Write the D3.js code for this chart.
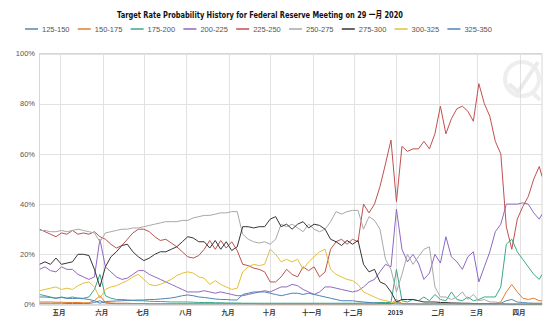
<!DOCTYPE html>
<html>
<head>
<meta charset="utf-8">
<script src="https://cdn.jsdelivr.net/npm/d3@7"></script>
<style>
  body { margin: 0; background: #fff; }
  svg { display: block; }
</style>
</head>
<body>
<svg id="chart" width="550" height="323"></svg>
<script>
// Observation dates: every 4 days from 16 Apr 2018, plus the final session
const startDate = new Date(2018, 3, 16);
const dates = d3.range(92).map(i => d3.timeDay.offset(startDate, 4 * i)).concat([new Date(2019, 3, 17)]);

const seriesNames = ["125-150", "150-175", "175-200", "200-225", "225-250", "250-275", "275-300", "300-325", "325-350"];

// Probability (%) of each target range on every observation date
const p125_150 = [
  0.5, 0.5, 0.5, 0.5, 0.5, 0.4, 0.4, 0.4, 0.4, 0.4,
  0.8, 1.5, 0.6, 0.4, 0.3, 0.3, 0.3, 0.3, 0.3, 0.3,
  0.2, 0.2, 0.2, 0.2, 0.2, 0.2, 0.2, 0.2, 0.2, 0.2,
  0.2, 0.2, 0.2, 0.2, 0.2, 0.2, 0.2, 0.2, 0.2, 0.2,
  0.1, 0.1, 0.1, 0.1, 0.1, 0.1, 0.1, 0.1, 0.1, 0.1,
  0.1, 0.1, 0.1, 0.1, 0.1, 0.1, 0.1, 0.1, 0.1, 0.1,
  0.1, 0.1, 0.2, 0.2, 0.2, 1, 0.3, 0.2, 0.2, 0.2,
  0.2, 0.2, 0.3, 0.2, 0.2, 0.3, 0.2, 0.2, 0.2, 0.2,
  0.2, 0.2, 0.2, 0.2, 0.5, 1.5, 2, 1, 0.8, 0.6,
  0.5, 0.5, 0.5];

const p150_175 = [
  1, 1, 1, 0.9, 0.9, 0.8, 0.8, 0.8, 0.7, 0.7,
  1.5, 3.5, 0.8, 0.6, 0.5, 0.5, 0.5, 0.4, 0.4, 0.4,
  0.3, 0.3, 0.3, 0.3, 0.3, 0.3, 0.3, 0.3, 0.3, 0.3,
  0.3, 0.3, 0.3, 0.3, 0.3, 0.3, 0.3, 0.3, 0.3, 0.3,
  0.2, 0.2, 0.2, 0.2, 0.2, 0.2, 0.2, 0.2, 0.2, 0.2,
  0.2, 0.2, 0.2, 0.2, 0.2, 0.2, 0.2, 0.2, 0.2, 0.2,
  0.2, 0.2, 0.2, 0.2, 0.2, 2, 0.3, 0.2, 0.3, 0.2,
  0.3, 0.2, 0.4, 0.3, 0.2, 0.5, 0.3, 0.2, 0.3, 0.2,
  0.3, 0.4, 0.3, 0.5, 1, 5, 8, 5, 2.5, 2,
  2.5, 1.5, 1.5];

const p175_200 = [
  4, 3.5, 3, 2.5, 3, 2.5, 3, 2.5, 2.5, 3,
  6, 12, 3.5, 2.5, 2, 2, 1.8, 1.6, 1.5, 1.5,
  1.3, 1.2, 1.2, 1.1, 1, 1, 1, 1, 0.9, 0.8,
  0.8, 0.8, 0.7, 0.7, 0.6, 0.6, 0.6, 0.5, 0.5, 0.5,
  0.5, 0.5, 0.5, 0.5, 0.5, 0.5, 0.5, 0.5, 0.5, 0.5,
  0.5, 0.5, 0.5, 0.5, 0.5, 0.5, 0.5, 0.5, 0.5, 0.6,
  0.6, 0.7, 0.8, 0.8, 0.8, 14, 1.5, 1, 2, 1.5,
  3, 1.5, 4, 2, 1.5, 5, 2, 1.5, 3, 1.5,
  2, 3, 3, 3, 7, 24, 26, 21, 18, 15,
  12, 10, 12];

const p200_225 = [
  14, 15, 13.5, 13, 15, 14, 14, 12, 11, 10,
  11, 26, 15, 13, 11, 10, 10.5, 12, 13.5, 13.5,
  12, 11, 10, 9, 8, 7, 6, 5, 5, 5,
  5.5, 5, 4.5, 5, 4.5, 4, 3.5, 3.5, 4, 4.5,
  5, 5.5, 5, 6, 7, 7, 8, 7.5, 6, 5,
  4, 5, 7, 7, 6.5, 6, 5.5, 5, 5.5, 7,
  9, 10, 13, 16, 15, 38, 22, 17, 20, 16.5,
  10, 12.5, 20, 16.5, 27, 19, 17, 14, 19, 21,
  9, 15, 21, 29, 32, 40, 40, 40, 40.5, 40,
  36.5, 34, 36];

const p225_250 = [
  30, 29, 28, 27, 28.5, 28, 29.5, 28, 28.5, 28,
  29, 27, 26, 24, 22.5, 23.5, 26, 28.5, 30, 30,
  29, 27, 25.5, 26, 24.5, 23, 21, 19, 18.5, 19.5,
  22, 25.5, 22, 25.5, 22.5, 25, 21.5, 16, 15.5, 14.5,
  14, 13, 9, 9, 11, 14, 12, 11, 15, 13.5,
  15, 11, 13, 22, 25, 26, 24, 26, 25, 40,
  36.5, 40, 47, 56, 65.5, 41, 63, 61, 62, 62,
  65, 62, 68, 79, 68, 74, 78, 79, 77, 73,
  88, 80, 75, 65, 60, 31, 22, 34, 39, 43,
  50, 55, 51];

const p250_275 = [
  29.5, 29.5, 29, 29, 29.5, 29, 29.5, 30, 29.5, 29,
  28.5, 25, 28.5, 29, 29.5, 30, 30, 30.5, 30.5, 31,
  31.5, 32, 32.5, 33, 33, 33, 33.5, 33.5, 34.5, 35,
  35.5, 35.5, 36, 36.5, 36.5, 37, 37, 28, 26, 25,
  24.5, 25, 24, 26, 32, 31, 32, 30.5, 29, 32,
  30, 29, 30, 33, 37, 36, 37, 37.5, 37.5, 30,
  35, 33.5, 30, 18, 14, 5, 12, 20, 16, 19,
  22, 23, 7, 3, 3, 2, 3, 5, 2, 4,
  1.5, 2, 1, 1, 0.5, 0.3, 0.2, 0.2, 0.1, 0.1,
  0.1, 0.1, 0.1];

const p275_300 = [
  16, 17, 16, 18.5, 16, 16.5, 17, 20, 20, 19.5,
  14, 7, 15, 19, 21, 23.5, 24, 21, 19, 17.5,
  18.5, 20, 21, 21, 22, 23, 25, 27, 26.5, 25,
  25, 22.5, 25.5, 22, 25, 21.5, 23, 31, 31, 30.5,
  31, 31, 34, 35, 31, 32, 30, 32, 33, 30.5,
  32, 31.5, 30, 26, 25, 23.5, 25.5, 24, 25.5, 16,
  13, 14, 9, 8, 5, 1, 2, 2, 2, 1.5,
  1, 1, 1, 0.8, 0.8, 0.6, 0.6, 0.5, 0.5, 0.4,
  0.3, 0.3, 0.3, 0.2, 0.2, 0.1, 0.1, 0.1, 0.1, 0.1,
  0.1, 0.1, 0.1];

const p300_325 = [
  5.5, 6, 6.5, 7, 6, 6.5, 6, 7.5, 8.5, 9,
  7, 2.5, 6, 7, 7.5, 8.5, 9.5, 11, 12, 10,
  8, 7.5, 8, 9, 10, 11.5, 12.5, 13, 12.5, 11,
  10.5, 8, 9.5, 8, 7, 6, 6.5, 13, 15, 16,
  15.5, 16, 22, 20, 17, 18, 17, 18, 14, 17,
  19, 21, 22, 14, 12, 11, 10, 9.5, 8, 5,
  4, 3, 2, 1.5, 1, 0.5, 0.5, 0.4, 0.3, 0.3,
  0.2, 0.2, 0.2, 0.2, 0.2, 0.2, 0.2, 0.2, 0.2, 0.2,
  0.2, 0.2, 0.2, 0.2, 0.2, 0.2, 0.3, 0.2, 0.2, 0.1,
  0.1, 0.1, 0.1];

const p325_350 = [
  3, 3, 2.8, 2.5, 2.8, 2.5, 2.4, 2.5, 2.3, 2,
  1.5, 0.5, 1.2, 1.3, 1.4, 1.5, 1.6, 1.7, 1.8, 1.8,
  2, 2, 2.2, 2.4, 2.6, 3, 3.5, 3.8, 3.5, 3,
  2.8, 2.5, 2.2, 2, 2, 1.8, 1.8, 4, 4.5, 5,
  5, 5, 4.5, 4, 3.5, 4, 4.5, 4.5, 4, 4.5,
  4, 3.5, 3, 2.5, 2, 1.5, 1.5, 1.5, 1.2, 1,
  0.8, 0.6, 0.5, 0.4, 0.3, 0.2, 0.2, 0.2, 0.2, 0.1,
  0.1, 0.1, 0.1, 0.1, 0.1, 0.1, 0.1, 0.1, 0.1, 0.1,
  0.1, 0.1, 0.1, 0.1, 0.1, 0.1, 0.1, 0.1, 0.1, 0.1,
  0.1, 0.1, 0.1];

const seriesValues = [p125_150, p150_175, p175_200, p200_225, p225_250, p250_275, p275_300, p300_325, p325_350];

const yTicks = [0, 20, 40, 60, 80, 100];
const monthLabels = ["五月", "六月", "七月", "八月", "九月", "十月", "十一月", "十二月", "2019", "二月", "三月", "四月"];

const titleText = "Target Rate Probability History for Federal Reserve Meeting on 29 一月 2020";

// ---- styling ----
const colors = ["#5b86ad", "#e07f2c", "#3aa88c", "#8f68c2", "#c0504f", "#a8a8a8", "#353535", "#e3bf3c", "#4f82b8"];
const plot = { left: 39.5, right: 542, top: 53.5, bottom: 304.5 };

const svg = d3.select("#chart");

const x = d3.scaleTime()
  .domain([dates[0], dates[dates.length - 1]])
  .range([plot.left, plot.right]);
const y = d3.scaleLinear().domain([0, 100]).range([plot.bottom, plot.top]);

// title
svg.append("text")
  .attr("x", 260).attr("y", 18)
  .attr("text-anchor", "middle")
  .attr("textLength", 286).attr("lengthAdjust", "spacingAndGlyphs")
  .style("font-family", "'DejaVu Sans', 'Noto Sans CJK SC', sans-serif")
  .style("font-weight", "bold").style("font-size", "9.5px").style("fill", "#111")
  .text(titleText);

// legend
const legend = svg.append("g").attr("transform", "translate(25,29)");
seriesNames.forEach((name, i) => {
  const g = legend.append("g").attr("transform", `translate(${i * 52.8},0)`);
  g.append("line").attr("x1", 0).attr("x2", 13).attr("y1", 0).attr("y2", 0)
    .attr("stroke", colors[i]).attr("stroke-width", 1.5);
  g.append("text").attr("x", 17).attr("y", 0).attr("dy", "0.35em")
    .style("font-family", "'Liberation Sans', Arial, sans-serif")
    .style("font-size", "7.5px").style("fill", "#555")
    .text(name);
});

// grid
const monthTicks = d3.timeMonth.range(new Date(2018, 4, 1), dates[dates.length - 1]);
const grid = svg.append("g");
grid.selectAll("line.h").data(yTicks).join("line")
  .attr("x1", plot.left).attr("x2", plot.right)
  .attr("y1", d => Math.round(y(d)) + 0.5).attr("y2", d => Math.round(y(d)) + 0.5)
  .attr("stroke", "#e2e2e2");
grid.selectAll("line.v").data(monthTicks).join("line")
  .attr("x1", d => Math.round(x(d)) + 0.5).attr("x2", d => Math.round(x(d)) + 0.5)
  .attr("y1", plot.top).attr("y2", plot.bottom)
  .attr("stroke", "#e2e2e2");
svg.append("rect")
  .attr("x", plot.left).attr("y", plot.top)
  .attr("width", plot.right - plot.left).attr("height", plot.bottom - plot.top)
  .attr("fill", "none").attr("stroke", "#d6d6d6");

// faint logo mark in the upper right corner
const mark = svg.append("g").attr("opacity", 0.35);
mark.append("circle").attr("cx", 522).attr("cy", 79).attr("r", 17)
  .attr("fill", "none").attr("stroke", "#cfcfcf").attr("stroke-width", 4);
mark.append("path")
  .attr("d", "M509,84 L518,92 L538,62")
  .attr("fill", "none").attr("stroke", "#c8c8c8").attr("stroke-width", 4)
  .attr("stroke-linejoin", "round");
mark.append("line").attr("x1", 532).attr("y1", 92).attr("x2", 540).attr("y2", 100)
  .attr("stroke", "#cfcfcf").attr("stroke-width", 4);

// y axis labels
svg.append("g").selectAll("text").data(yTicks).join("text")
  .attr("x", 35).attr("y", d => y(d)).attr("dy", "0.35em")
  .attr("text-anchor", "end")
  .style("font-family", "'Liberation Sans', Arial, sans-serif")
  .style("font-size", "7.5px").style("fill", "#555")
  .text(d => d + "%");

// x axis labels
svg.append("g").selectAll("text").data(monthTicks).join("text")
  .attr("x", d => x(d) - 1).attr("y", 315)
  .attr("text-anchor", "middle")
  .style("font-family", "'Noto Sans CJK SC', 'DejaVu Sans', sans-serif")
  .style("font-size", "6.5px").style("font-weight", "bold").style("fill", "#333")
  .text((d, i) => monthLabels[i]);

// series lines
svg.append("clipPath").attr("id", "plotClip").append("rect")
  .attr("x", plot.left).attr("y", plot.top - 2)
  .attr("width", plot.right - plot.left).attr("height", plot.bottom - plot.top + 2);

const line = d3.line().x((d, i) => x(dates[i])).y(d => y(d));
const lines = svg.append("g").attr("clip-path", "url(#plotClip)");
seriesValues.forEach((vals, i) => {
  lines.append("path")
    .attr("d", line(vals))
    .attr("fill", "none")
    .attr("stroke", colors[i])
    .attr("stroke-width", 1)
    .attr("stroke-linejoin", "round");
});
</script>
</body>
</html>
